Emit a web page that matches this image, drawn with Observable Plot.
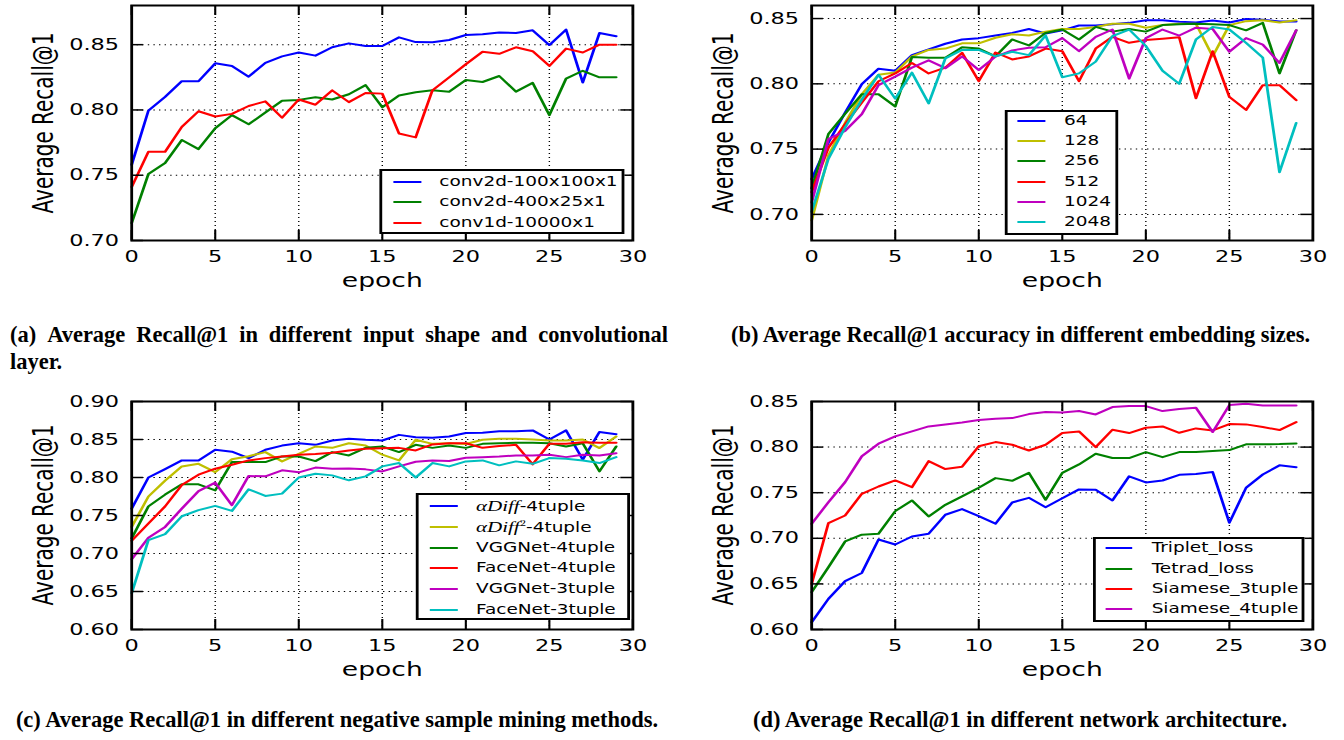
<!DOCTYPE html>
<html><head><meta charset="utf-8">
<script src="https://cdn.jsdelivr.net/npm/d3@7"></script>
<script src="https://cdn.jsdelivr.net/npm/@observablehq/plot@0.6"></script>
<style>
body{margin:0;background:#fff;}
#root{position:relative;width:1344px;height:740px;overflow:hidden;font-family:"DejaVu Sans";background:#fff;}
.panel{position:absolute;transform:scaleX(1.4);transform-origin:0 0;}
.panel svg{display:block;overflow:visible;}
.legend{position:absolute;border:2px solid #000;background:#fff;box-sizing:border-box;}
.sw{position:absolute;height:2px;}
.lt{position:absolute;white-space:nowrap;font-size:13.2px;line-height:1;transform:translateY(-50%);font-family:"DejaVu Sans";color:#000;}
.m{font-family:"Liberation Serif";font-style:italic;font-size:15px;}
.lt sup{font-size:9px;font-family:"Liberation Serif";}
.ylab{position:absolute;white-space:nowrap;font-size:20px;line-height:1;font-family:"DejaVu Sans";color:#000;transform:translate(-50%,-50%) rotate(-90deg);}
.cap{position:absolute;font-family:"Liberation Serif";font-weight:bold;white-space:nowrap;color:#000;line-height:1.2;}
</style></head><body><div id="root"></div>
<script>
const epochs = d3.range(0, 30);
const xTicks = [0, 5, 10, 15, 20, 25, 30];
const C = {blue:"#0000ff", green:"#008000", red:"#ff0000", cyan:"#00bfbf", magenta:"#bf00bf", yellow:"#bfbf00"};
const yLabel = "Average Recall@1";
const xLabel = "epoch";

// ---------- (a) ----------
const aLabels = ["conv2d-100x100x1", "conv2d-400x25x1", "conv1d-10000x1"];
const aConv2d100 = [0.758,0.7995,0.810,0.822,0.822,0.8357,0.8337,0.8255,0.836,0.841,0.844,0.8416,0.848,0.851,0.849,0.849,0.8556,0.852,0.8518,0.8536,0.8574,0.858,0.8594,0.859,0.861,0.8497,0.8615,0.821,0.859,0.8564];
const aConv2d400 = [0.7133,0.751,0.7594,0.777,0.770,0.786,0.796,0.789,0.798,0.807,0.8077,0.8097,0.808,0.812,0.819,0.802,0.811,0.8135,0.815,0.814,0.823,0.8214,0.826,0.814,0.8207,0.796,0.824,0.830,0.825,0.825];
const aConv1d = [0.741,0.768,0.768,0.787,0.799,0.795,0.797,0.803,0.8066,0.794,0.808,0.804,0.815,0.806,0.813,0.8125,0.782,0.779,0.815,0.825,0.835,0.8446,0.843,0.848,0.845,0.8337,0.847,0.844,0.850,0.850];
const aYTicks = [0.70, 0.75, 0.80, 0.85];
const aYDomain = [0.70, 0.88];

// ---------- (b) ----------
const bLabels = ["64", "128", "256", "512", "1024", "2048"];
const b64 = [0.727,0.755,0.778,0.7997,0.8116,0.810,0.822,0.8264,0.8307,0.834,0.835,0.837,0.839,0.842,0.8386,0.841,0.8447,0.8447,0.8457,0.8467,0.8487,0.8487,0.8475,0.847,0.8485,0.847,0.8497,0.849,0.8477,0.8477];
const b128 = [0.6954,0.745,0.770,0.792,0.807,0.8086,0.821,0.826,0.827,0.831,0.831,0.8353,0.838,0.837,0.840,0.842,0.842,0.8436,0.846,0.846,0.843,0.845,0.846,0.846,0.821,0.845,0.848,0.8487,0.847,0.8487];
const b256 = [0.720,0.7615,0.777,0.792,0.792,0.7826,0.8205,0.820,0.820,0.828,0.827,0.821,0.834,0.8294,0.839,0.8416,0.834,0.8436,0.840,0.842,0.840,0.845,0.8457,0.846,0.8457,0.845,0.841,0.8467,0.808,0.841];
const b512 = [0.717,0.751,0.769,0.7857,0.802,0.808,0.816,0.808,0.8124,0.8238,0.802,0.824,0.8187,0.821,0.827,0.825,0.802,0.827,0.836,0.8314,0.8335,0.8345,0.8357,0.789,0.825,0.790,0.780,0.799,0.799,0.7875];
const b1024 = [0.709,0.7577,0.764,0.7768,0.799,0.8055,0.8124,0.818,0.812,0.821,0.8106,0.8208,0.8256,0.8276,0.828,0.835,0.825,0.836,0.8416,0.804,0.835,0.8416,0.837,0.843,0.842,0.8246,0.835,0.830,0.816,0.841];
const b2048 = [0.702,0.7425,0.7666,0.788,0.807,0.7887,0.8086,0.785,0.8195,0.826,0.826,0.821,0.8246,0.822,0.837,0.805,0.808,0.817,0.8365,0.8416,0.829,0.810,0.800,0.834,0.8436,0.8416,0.8314,0.820,0.7323,0.770];
const bYTicks = [0.70, 0.75, 0.80, 0.85];
const bYDomain = [0.68, 0.86];

// ---------- (c) ----------
const cLabels = ['<span class="m">αDiff</span>-4tuple', '<span class="m">αDiff</span><sup>2</sup>-4tuple', "VGGNet-4tuple", "FaceNet-4tuple", "VGGNet-3tuple", "FaceNet-3tuple"];
const cAlphaDiff = [0.759,0.80,0.811,0.8225,0.8225,0.8365,0.834,0.8255,0.8365,0.842,0.845,0.843,0.8487,0.851,0.8496,0.8487,0.8561,0.853,0.8523,0.854,0.8585,0.859,0.8607,0.8607,0.862,0.850,0.862,0.8234,0.860,0.857];
const cAlphaDiff2 = [0.735,0.775,0.796,0.8146,0.818,0.807,0.824,0.828,0.8334,0.8212,0.831,0.8408,0.839,0.845,0.842,0.830,0.8225,0.8496,0.8443,0.845,0.844,0.8496,0.851,0.851,0.850,0.8487,0.8487,0.850,0.8387,0.854];
const cVGG4 = [0.72,0.762,0.7775,0.791,0.791,0.783,0.8203,0.8203,0.8203,0.8277,0.8277,0.8216,0.8334,0.829,0.839,0.8408,0.8334,0.843,0.839,0.842,0.839,0.8443,0.845,0.8456,0.8456,0.845,0.8408,0.845,0.808,0.8408];
const cFace4 = [0.7168,0.7395,0.762,0.79,0.8037,0.8116,0.8168,0.8225,0.8255,0.8277,0.830,0.831,0.8325,0.8356,0.8378,0.8386,0.839,0.8356,0.8435,0.845,0.845,0.839,0.8413,0.843,0.8173,0.8443,0.8443,0.8465,0.8456,0.8456];
const cVGG3 = [0.6924,0.7207,0.735,0.759,0.782,0.7932,0.7635,0.802,0.8015,0.8094,0.8068,0.813,0.8116,0.812,0.8107,0.808,0.8146,0.8207,0.8225,0.8216,0.826,0.8268,0.8277,0.829,0.829,0.830,0.8268,0.830,0.829,0.832];
const cFace3 = [0.6478,0.7177,0.7255,0.749,0.757,0.7627,0.756,0.7845,0.7757,0.7788,0.80,0.805,0.8028,0.7963,0.8015,0.8146,0.819,0.80,0.819,0.8146,0.8212,0.8225,0.816,0.8212,0.818,0.8255,0.8247,0.8225,0.819,0.8268];
const cYTicks = [0.60, 0.65, 0.70, 0.75, 0.80, 0.85, 0.90];
const cYDomain = [0.60, 0.90];

// ---------- (d) ----------
const dLabels = ["Triplet_loss", "Tetrad_loss", "Siamese_3tuple", "Siamese_4tuple"];
const dTriplet = [0.608,0.6336,0.653,0.662,0.6987,0.6932,0.702,0.705,0.7258,0.732,0.7243,0.716,0.7393,0.7444,0.734,0.744,0.7536,0.7532,0.7415,0.768,0.7612,0.7634,0.7696,0.7704,0.7726,0.717,0.7554,0.770,0.780,0.778];
const dTetrad = [0.641,0.6683,0.6965,0.704,0.705,0.7298,0.7415,0.724,0.7367,0.7459,0.7554,0.766,0.763,0.7718,0.7422,0.7718,0.781,0.7927,0.788,0.788,0.7945,0.789,0.7945,0.7945,0.7956,0.7967,0.803,0.803,0.8033,0.804];
const dSiamese3 = [0.65,0.7166,0.725,0.7488,0.7568,0.7634,0.756,0.7846,0.7759,0.7784,0.801,0.8055,0.8026,0.7963,0.8026,0.8154,0.8172,0.80,0.819,0.8154,0.8212,0.8227,0.8157,0.8205,0.8183,0.8252,0.8249,0.822,0.8187,0.8274];
const dSiamese4 = [0.7159,0.7396,0.7616,0.790,0.8037,0.8117,0.8172,0.8227,0.8249,0.827,0.8296,0.8311,0.8318,0.8362,0.8384,0.838,0.8395,0.8358,0.8439,0.845,0.845,0.8395,0.8417,0.8432,0.8165,0.8461,0.8475,0.8457,0.8457,0.8457];
const dYTicks = [0.60, 0.65, 0.70, 0.75, 0.80, 0.85];
const dYDomain = [0.60, 0.85];

const captions = {
  a1: "(a) Average Recall@1 in different input shape and convolutional",
  a2: "layer.",
  b: "(b) Average Recall@1 accuracy in different embedding sizes.",
  c: "(c) Average Recall@1 in different negative sample mining methods.",
  d: "(d) Average Recall@1 in different network architecture."
};

const root = document.getElementById("root");

function makePanel(cfg) {
  const W = 460, mL = 93.57, mR = 8.43, mB = 60;
  const H = cfg.marginTop + cfg.plotH + mB;
  const plotW = W - mL - mR;
  const [y0, y1] = cfg.yDomain;
  const tx = (y1 - y0) * 10 / cfg.plotH;
  const ty = 30 * 8.5 / plotW;
  const tickStyle = {stroke: "#000", strokeWidth: 1.5};
  const gridStyle = {stroke: "#000", strokeOpacity: 1, strokeWidth: 1, strokeDasharray: "1,3"};
  const lines = cfg.series.map(s => Plot.line(
    s.values.map((v, i) => ({epoch: epochs[i], value: v})),
    {x: "epoch", y: "value", stroke: s.color, strokeWidth: 2, strokeLinejoin: "round"}
  ));
  const svg = Plot.plot({
    width: W, height: H,
    marginLeft: mL, marginRight: mR, marginTop: cfg.marginTop, marginBottom: mB,
    style: {fontFamily: "DejaVu Sans", background: "transparent", maxWidth: "none", overflow: "visible", color: "#000"},
    x: {domain: [0, 30]},
    y: {domain: cfg.yDomain},
    marks: [
      Plot.gridX(xTicks, gridStyle),
      Plot.gridY(cfg.yTicks, gridStyle),
      ...lines,
      Plot.ruleX(xTicks, {x: d => d, y1: y0, y2: y0 + tx, ...tickStyle}),
      Plot.ruleX(xTicks, {x: d => d, y1: y1 - tx, y2: y1, ...tickStyle}),
      Plot.ruleY(cfg.yTicks, {y: d => d, x1: 0, x2: ty, ...tickStyle}),
      Plot.ruleY(cfg.yTicks, {y: d => d, x1: 30 - ty, x2: 30, ...tickStyle}),
      Plot.frame({stroke: "#000", strokeWidth: 2}),
      Plot.axisX({ticks: xTicks, tickSize: 0, tickPadding: 10, fontSize: 16, label: null}),
      Plot.axisY({ticks: cfg.yTicks, tickSize: 0, tickPadding: 9, tickFormat: d3.format(".2f"), fontSize: 16, label: null}),
      Plot.text([xLabel], {text: d => d, frameAnchor: "bottom", dy: 33, lineAnchor: "top", fontSize: 19, fill: "#000"})
    ]
  });
  const div = document.createElement("div");
  div.className = "panel";
  div.style.left = cfg.left + "px";
  div.style.top = cfg.top + "px";
  div.style.width = W + "px";
  div.style.height = H + "px";
  div.appendChild(svg);
  root.appendChild(div);

  const yl = document.createElement("div");
  yl.className = "ylab";
  yl.textContent = yLabel;
  yl.style.left = "31px";
  yl.style.top = (cfg.marginTop + cfg.plotH / 2) + "px";
  div.appendChild(yl);

  const L = cfg.legend;
  const box = document.createElement("div");
  box.className = "legend";
  Object.assign(box.style, {left: L.left + "px", top: L.top + "px", width: L.width + "px", height: L.height + "px"});
  div.appendChild(box);
  cfg.series.forEach((s, i) => {
    const y = L.y0 + i * L.dy;
    const sw = document.createElement("div");
    sw.className = "sw";
    Object.assign(sw.style, {left: L.x0 + "px", top: (y - 1) + "px", width: (L.x1 - L.x0) + "px", background: s.color});
    div.appendChild(sw);
    const t = document.createElement("div");
    t.className = "lt";
    t.style.left = L.tx + "px";
    t.style.top = y + "px";
    t.innerHTML = s.label;
    div.appendChild(t);
  });
}

makePanel({
  left: 0, top: 0, marginTop: 5, plotH: 235, yDomain: aYDomain, yTicks: aYTicks,
  series: [
    {label: aLabels[0], values: aConv2d100, color: C.blue},
    {label: aLabels[1], values: aConv2d400, color: C.green},
    {label: aLabels[2], values: aConv1d, color: C.red}
  ],
  legend: {left: 271.4, top: 169, width: 175, height: 65.3, y0: 181.7, dy: 20.5, x0: 280.5, x1: 300.7, tx: 313.8}
});
makePanel({
  left: 680, top: 0, marginTop: 5, plotH: 235, yDomain: bYDomain, yTicks: bYTicks,
  series: [
    {label: bLabels[0], values: b64, color: C.blue},
    {label: bLabels[1], values: b128, color: C.yellow},
    {label: bLabels[2], values: b256, color: C.green},
    {label: bLabels[3], values: b512, color: C.red},
    {label: bLabels[4], values: b1024, color: C.magenta},
    {label: bLabels[5], values: b2048, color: C.cyan}
  ],
  legend: {left: 232.1, top: 110, width: 81, height: 125, y0: 120.7, dy: 20.3, x0: 241.0, x1: 261.2, tx: 274.3}
});
makePanel({
  left: 0, top: 396, marginTop: 5, plotH: 228, yDomain: cYDomain, yTicks: cYTicks,
  series: [
    {label: cLabels[0], values: cAlphaDiff, color: C.blue},
    {label: cLabels[1], values: cAlphaDiff2, color: C.yellow},
    {label: cLabels[2], values: cVGG4, color: C.green},
    {label: cLabels[3], values: cFace4, color: C.red},
    {label: cLabels[4], values: cVGG3, color: C.magenta},
    {label: cLabels[5], values: cFace3, color: C.cyan}
  ],
  legend: {left: 297.1, top: 97.3, width: 153.4, height: 126.7, y0: 109.7, dy: 20.9, x0: 306.6, x1: 326.6, tx: 340}
});
makePanel({
  left: 680, top: 396, marginTop: 5, plotH: 228, yDomain: dYDomain, yTicks: dYTicks,
  series: [
    {label: dLabels[0], values: dTriplet, color: C.blue},
    {label: dLabels[1], values: dTetrad, color: C.green},
    {label: dLabels[2], values: dSiamese3, color: C.red},
    {label: dLabels[3], values: dSiamese4, color: C.magenta}
  ],
  legend: {left: 294.5, top: 140.7, width: 151.5, height: 85.6, y0: 152.3, dy: 20.2, x0: 303.6, x1: 322.6, tx: 336.9}
});

// captions
const ctx = document.createElement("canvas").getContext("2d");
ctx.font = "bold 100px 'Liberation Serif'";
const fits = [[captions.b, 575], [captions.c, 650], [captions.d, 535]].map(([t, w]) => 100 * w / ctx.measureText(t).width);
const capF = Math.max(16, Math.min(24, d3.mean(fits)));

function addCap(text, cx, cy) {
  const el = document.createElement("div");
  el.className = "cap";
  el.style.fontSize = capF + "px";
  el.textContent = text;
  el.style.left = cx + "px";
  el.style.top = (cy - 0.6 * capF) + "px";
  el.style.transform = "translateX(-50%)";
  root.appendChild(el);
}
// (a) justified first line
const a1 = document.createElement("div");
a1.className = "cap";
Object.assign(a1.style, {left: "10px", width: "658px", top: (335 - 0.6 * capF) + "px", fontSize: capF + "px", display: "flex", justifyContent: "space-between"});
captions.a1.split(" ").forEach(w => { const s = document.createElement("span"); s.textContent = w; a1.appendChild(s); });
root.appendChild(a1);
const a2 = document.createElement("div");
a2.className = "cap";
Object.assign(a2.style, {left: "10px", top: (362 - 0.6 * capF) + "px", fontSize: capF + "px"});
a2.textContent = captions.a2;
root.appendChild(a2);
addCap(captions.b, 1020.5, 335);
addCap(captions.c, 337, 720);
addCap(captions.d, 1020, 720);
</script></body></html>
